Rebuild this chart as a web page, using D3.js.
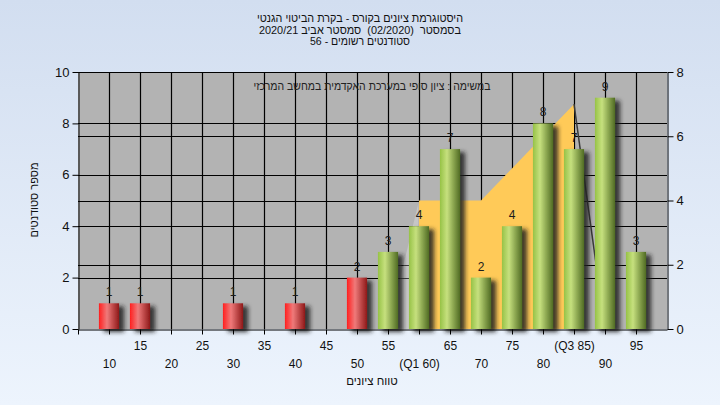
<!DOCTYPE html>
<html><head><meta charset="utf-8">
<script src="https://cdn.jsdelivr.net/npm/d3@7"></script>
<style>body{margin:0;} svg{display:block;font-family:"Liberation Sans",Arial,sans-serif;} .pre{white-space:pre;}</style>
</head><body><svg id="c" width="720" height="405"></svg>
<script>
const titleLines = ["היסטוגרמת ציונים בקורס - בקרת הביטוי הגנטי", "בסמסטר  (02/2020)  סמסטר אביב 2020/21", "סטודנטים רשומים - 56"];
const noteText = "במשימה : ציון סופי במערכת האקדמית במחשב המרכזי";
const yTitle = "מספר סטודנטים";
const xTitle = "טווח ציונים";
const categories = [10,15,20,25,30,35,40,45,50,55,60,65,70,75,80,85,90,95];
const tickLabels = ["10","15","20","25","30","35","40","45","50","55","(Q1 60)","65","70","75","80","(Q3 85)","90","95"];
const counts = [1,1,0,0,1,0,1,0,2,3,4,7,2,4,8,7,9,3];
const passMark = 55;
const areaCats = [55,60,65,70,75,80,85,90];
const areaVals = [0,4,4,4,5,6,7,0];
const q1 = 60, q3 = 85;
const leftTicks = [0,2,4,6,8,10];
const rightTicks = [0,2,4,6,8];

const L = 78, R = 667, T = 72, B = 329;
const svg = d3.select("#c");
const defs = svg.append("defs");

const bg = defs.append("linearGradient").attr("id","bg").attr("x1",0).attr("x2",0).attr("y1",0).attr("y2",1);
bg.append("stop").attr("offset","0%").attr("stop-color","#d2def0");
bg.append("stop").attr("offset","100%").attr("stop-color","#edf4fd");

function grad(id, stops){
  const g = defs.append("linearGradient").attr("id",id).attr("x1",0).attr("x2",1).attr("y1",0).attr("y2",0);
  stops.forEach(s=>g.append("stop").attr("offset",s[0]).attr("stop-color",s[1]));
}
grad("red", [["0%","#ff1e1e"],["40%","#ef7a7a"],["100%","#8e1818"]]);
grad("green", [["0%","#96c246"],["35%","#c6e07e"],["100%","#4f6b22"]]);

const sh = defs.append("filter").attr("id","sh").attr("x","-50%").attr("y","-50%").attr("width","200%").attr("height","200%");
sh.append("feDropShadow").attr("dx",5).attr("dy",3).attr("stdDeviation",2.2).attr("flood-color","#202020").attr("flood-opacity",0.85);

svg.append("rect").attr("width",720).attr("height",405).attr("fill","url(#bg)");

const x = d3.scaleLinear().domain([5,100]).range([L,R]);
const yL = d3.scaleLinear().domain([0,10]).range([B,T]);
const yR = d3.scaleLinear().domain([0,8]).range([B,T]);

svg.append("rect").attr("x",L).attr("y",T).attr("width",R-L).attr("height",B-T).attr("fill","#b3b3b3");

// grid
const grid = svg.append("g").attr("stroke","#000").attr("stroke-width",1.2);
categories.forEach(c=>grid.append("line").attr("x1",Math.round(x(c))+0.5).attr("x2",Math.round(x(c))+0.5).attr("y1",T).attr("y2",B));
leftTicks.filter(t=>t>0).forEach(t=>grid.append("line").attr("x1",L).attr("x2",R).attr("y1",Math.round(yL(t))+0.5).attr("y2",Math.round(yL(t))+0.5));
rightTicks.filter(t=>t>0).forEach(t=>grid.append("line").attr("x1",L).attr("x2",R).attr("y1",Math.round(yR(t))+0.5).attr("y2",Math.round(yR(t))+0.5));

// area
const pts = areaCats.map((c,i)=>[c,areaVals[i]]);
const inner = pts.filter(p=>p[0]>=q1 && p[0]<=q3);
const area = d3.area().x(d=>x(d[0])).y0(yR(0)).y1(d=>yR(d[1]));
svg.append("path").attr("d",area(inner)).attr("fill","#ffca58");
const leftRamp = pts.filter(p=>p[0]<=q1);
svg.append("path").attr("d",area(leftRamp)).attr("fill","#ffffff").attr("opacity",0.25);
const rightRamp = pts.filter(p=>p[0]>=q3);
svg.append("path").attr("d",d3.line().x(d=>x(d[0])).y(d=>yR(d[1]))(rightRamp)).attr("fill","none").attr("stroke","#3a3a3a").attr("stroke-width",1.5);

// bars
const bw = (x(5)-x(0))*0.65;
const bars = svg.append("g");
categories.forEach((c,i)=>{
  if(!counts[i]) return;
  bars.append("rect").attr("x",x(c)-bw/2).attr("y",yL(counts[i])).attr("width",bw).attr("height",B-yL(counts[i]))
    .attr("fill", c<passMark ? "url(#red)" : "url(#green)").attr("filter","url(#sh)");
});
categories.forEach((c,i)=>{
  if(!counts[i]) return;
  svg.append("text").attr("x",x(c)).attr("y",yL(counts[i])-7).attr("text-anchor","middle")
    .attr("font-size",12).attr("fill","#1c1c1c").text(counts[i]);
});

// axes
svg.append("line").attr("x1",L).attr("x2",R).attr("y1",T+0.5).attr("y2",T+0.5).attr("stroke","#000");
const ax = svg.append("g").attr("transform",`translate(${L+0.5},0)`)
  .call(d3.axisLeft(yL).tickValues(leftTicks).tickSize(6).tickSizeOuter(0).tickPadding(3));
ax.selectAll("text").attr("font-size",13).attr("fill","#111");
const ar = svg.append("g").attr("transform",`translate(${R+0.5},0)`)
  .call(d3.axisRight(yR).tickValues(rightTicks).tickSize(6).tickSizeOuter(0).tickPadding(3));
ar.selectAll("text").attr("font-size",13).attr("fill","#111");
const axb = svg.append("g").attr("transform",`translate(0,${B+0.5})`)
  .call(d3.axisBottom(x).tickValues([5].concat(categories)).tickSize(5).tickSizeOuter(0)
    .tickFormat(d=>{const i=categories.indexOf(d); return i<0?"":tickLabels[i];}));
axb.selectAll("text").attr("font-size",12).attr("fill","#111").attr("dy",0)
  .attr("y",d=>{const i=categories.indexOf(d); return i%2===1 ? 20 : 38;});
svg.selectAll(".domain").attr("stroke","#000");
svg.selectAll(".tick line").attr("stroke","#000");

// titles
function centered(sel, cx){
  const bb = sel.node().getBBox();
  sel.attr("transform",`translate(${cx-(bb.x+bb.width/2)},0)`);
}
const titleWidths = [206, 202, 100];
titleLines.forEach((t,i)=>{
  const tx = svg.append("text").attr("class","pre").attr("x",360).attr("y",22+i*11.7).attr("direction","rtl")
    .attr("font-size",11.5).attr("fill","#111").attr("textLength",titleWidths[i]).attr("lengthAdjust","spacingAndGlyphs").text(t);
  centered(tx,360);
});
const nt = svg.append("text").attr("x",372).attr("y",90).attr("direction","rtl")
  .attr("font-size",11.5).attr("fill","#222").attr("textLength",237).attr("lengthAdjust","spacingAndGlyphs").text(noteText);
centered(nt,372);
const xt = svg.append("text").attr("x",372).attr("y",385).attr("direction","rtl")
  .attr("font-size",11.5).attr("fill","#111").text(xTitle);
centered(xt,372);
svg.append("text").attr("transform","translate(38,200) rotate(-90)").attr("text-anchor","middle").attr("direction","rtl")
  .attr("font-size",11).attr("fill","#111").text(yTitle);
</script></body></html>
